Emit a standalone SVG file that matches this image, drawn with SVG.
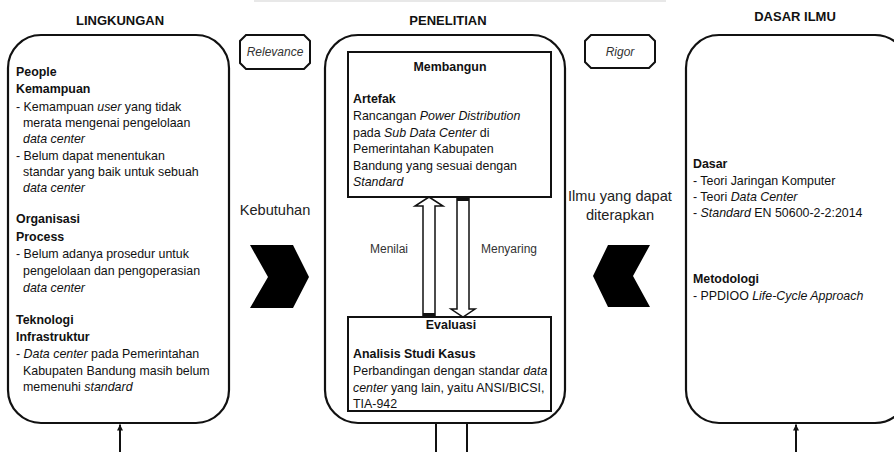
<svg xmlns="http://www.w3.org/2000/svg" width="894" height="452" viewBox="0 0 894 452">
<style>
text{font-family:"Liberation Sans",Arial,sans-serif;font-size:12.4px;fill:#111}
.b{font-weight:bold}
.i{font-style:italic}
.t{font-size:13px;font-weight:bold}
.lbl{font-size:14.6px;fill:#222}
.sm{font-size:12px;fill:#333}
.big{fill:#fff;stroke:#111;stroke-width:2.2}
.box{fill:#fff;stroke:#111;stroke-width:2}
.tag{fill:#fff;stroke:#111;stroke-width:2}
.chev{fill:#000}
.ln{stroke:#111;stroke-width:2;fill:none}
.blk{fill:#fff;stroke:#111;stroke-width:1.5}
</style>
<defs>
<marker id="ah" markerWidth="6" markerHeight="6" refX="6" refY="3" orient="auto" markerUnits="userSpaceOnUse">
<path d="M0,0 L6,3 L0,6 Z" fill="#111"/>
</marker>
</defs>
<rect x="254" y="0" width="412" height="2" fill="#e8e8e8"/>

<text class="t" x="120" y="25" text-anchor="middle">LINGKUNGAN</text>
<text class="t" x="448" y="25" text-anchor="middle">PENELITIAN</text>
<text class="t" x="795" y="21" text-anchor="middle">DASAR ILMU</text>

<g id="lingkungan">
<rect class="big" x="8" y="35" width="221" height="388" rx="33" ry="33"/>
<text class="b" x="16" y="76">People</text>
<text class="b" x="16" y="93">Kemampuan</text>
<text x="16" y="111">- Kemampuan <tspan class="i">user</tspan> yang tidak</text>
<text x="23" y="127">merata mengenai pengelolaan</text>
<text x="23" y="143" class="i">data center</text>
<text x="16" y="160">- Belum dapat menentukan</text>
<text x="23" y="176">standar yang baik untuk sebuah</text>
<text x="23" y="192" class="i">data center</text>
<text class="b" x="16" y="223">Organisasi</text>
<text class="b" x="16" y="241">Process</text>
<text x="16" y="258">- Belum adanya prosedur untuk</text>
<text x="23" y="275">pengelolaan dan pengoperasian</text>
<text x="23" y="292" class="i">data center</text>
<text class="b" x="16" y="324">Teknologi</text>
<text class="b" x="16" y="341">Infrastruktur</text>
<text x="16" y="358">- <tspan class="i">Data center</tspan> pada Pemerintahan</text>
<text x="23" y="375">Kabupaten Bandung masih belum</text>
<text x="23" y="391">memenuhi <tspan class="i">standard</tspan></text>
</g>

<g id="relevance">
<polygon class="tag" points="246,35 304,35 310,41 310,63 304,69 246,69 240,63 240,41"/>
<text x="275" y="56" text-anchor="middle" class="i sm">Relevance</text>
</g>

<g id="rigor">
<polygon class="tag" points="591,35 649,35 655,41 655,62 649,68 591,68 585,62 585,41"/>
<text x="620" y="56" text-anchor="middle" class="i sm">Rigor</text>
</g>

<g id="kebutuhan">
<text class="lbl" x="275" y="215" text-anchor="middle">Kebutuhan</text>
<polygon class="chev" points="250,245 293,245 309,277 293,308 250,308 268,277"/>
</g>

<g id="ilmu">
<text class="lbl" x="620" y="201" text-anchor="middle">Ilmu yang dapat</text>
<text class="lbl" x="620" y="220" text-anchor="middle">diterapkan</text>
<polygon class="chev" points="650,245 608,245 593,276 608,307 650,307 633,276"/>
</g>

<g id="penelitian">
<rect class="big" x="325" y="35" width="240" height="388" rx="33" ry="33"/>
</g>

<g id="membangun">
<rect class="box" x="348" y="52" width="203" height="145"/>
<text class="b" x="450" y="71" text-anchor="middle">Membangun</text>
<text class="b" x="353" y="103">Artefak</text>
<text x="353" y="120">Rancangan <tspan class="i">Power Distribution</tspan></text>
<text x="353" y="137">pada <tspan class="i">Sub Data Center</tspan> di</text>
<text x="353" y="153">Pemerintahan Kabupaten</text>
<text x="353" y="170">Bandung yang sesuai dengan</text>
<text x="353" y="186" class="i">Standard</text>
</g>

<g id="evaluasi">
<rect class="box" x="348" y="317" width="203" height="94"/>
<text class="b" x="451" y="329" text-anchor="middle">Evaluasi</text>
<text class="b" x="353" y="358">Analisis Studi Kasus</text>
<text x="353" y="375">Perbandingan dengan standar <tspan class="i">data</tspan></text>
<text x="353" y="392"><tspan class="i">center</tspan> yang lain, yaitu ANSI/BICSI,</text>
<text x="353" y="408">TIA-942</text>
</g>

<g id="dasar-ilmu">
<rect class="big" x="686" y="35" width="222" height="388" rx="33" ry="33"/>
<text class="b" x="693" y="168">Dasar</text>
<text x="693" y="185">- Teori Jaringan Komputer</text>
<text x="693" y="201">- Teori <tspan class="i">Data Center</tspan></text>
<text x="693" y="217">- <tspan class="i">Standard</tspan> EN 50600-2-2:2014</text>
<text class="b" x="693" y="283">Metodologi</text>
<text x="693" y="300">- PPDIOO <tspan class="i">Life-Cycle Approach</tspan></text>
</g>

<g id="connectors">
<polygon class="blk" points="429,197 443,206 435,206 435,316 423,316 423,206 415,206"/>
<rect x="423" y="313" width="12" height="4" fill="#111"/>
<polygon class="blk" points="457,198 469,198 469,309 475,309 463,317 451,309 457,309"/>
<rect x="457" y="197" width="12" height="4" fill="#111"/>
<text class="sm" x="389" y="253" text-anchor="middle">Menilai</text>
<text class="sm" x="509" y="253" text-anchor="middle">Menyaring</text>
<line class="ln" x1="436" y1="424" x2="436" y2="452"/>
<line class="ln" x1="467" y1="424" x2="467" y2="452"/>
<line class="ln" x1="120" y1="452" x2="120" y2="424.5" marker-end="url(#ah)"/>
<line class="ln" x1="796" y1="452" x2="796" y2="424.5" marker-end="url(#ah)"/>
</g>
</svg>
